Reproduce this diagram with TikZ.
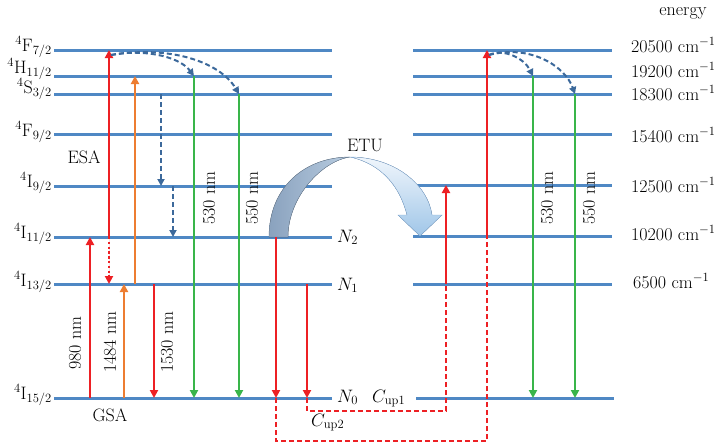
\RequirePackage{fix-cm}
\documentclass[tikz,border=0pt]{standalone}
\usepackage{fontspec}
\usetikzlibrary{arrows.meta}
\definecolor{lvl}{RGB}{79,136,196}
\definecolor{myred}{RGB}{237,32,36}
\definecolor{myorange}{RGB}{237,125,49}
\definecolor{mygreen}{RGB}{57,181,74}
\definecolor{mydash}{RGB}{60,105,155}
\definecolor{etuA}{RGB}{138,162,190}
\definecolor{etuB}{RGB}{185,205,225}
\definecolor{etuC}{RGB}{240,246,252}
\definecolor{etuD}{RGB}{160,198,232}
\tikzset{
  lev/.style={line width=3pt, draw=lvl},
  txt/.style={font=\fontsize{18}{21}\selectfont, inner sep=0pt},
  arr/.style={line width=2.4pt, -{Triangle[length=8pt,width=8pt]}},
  redarr/.style={arr, draw=myred, fill=myred},
  orarr/.style={arr, draw=myorange, fill=myorange},
  grarr/.style={arr, draw=mygreen, fill=mygreen},
  dotarr/.style={redarr, dash pattern=on 2.4pt off 2.4pt},
  bluedash/.style={line width=2pt, draw=mydash, dash pattern=on 5pt off 3pt, -{Triangle[length=7pt,width=7pt]}},
  reddash/.style={line width=2pt, draw=myred, dash pattern=on 5pt off 3pt},
}
\begin{document}
\begin{tikzpicture}[x=1pt,y=-1pt]
\useasboundingbox (0,0) rectangle (716,445);
% ---------- left levels
\foreach \y in {50,76,94,134,186,237,284,398}{
  \draw[lev] (54,\y) -- (332,\y);
}
% ---------- right levels
\foreach \y in {50,76,94,134,185,236,284}{
  \draw[lev] (413,\y) -- (612,\y);
}
\draw[lev] (416,398) -- (614,398);
% ---------- level labels
\node[txt, anchor=base east] (lF72) at (52,51) {$^4$F$_{7/2}$};
\node[txt, anchor=base east] (lH112) at (52,73) {$^4$H$_{11/2}$};
\node[txt, anchor=base east] (lS32) at (52,93) {$^4$S$_{3/2}$};
\node[txt, anchor=base east] (lF92) at (52,136) {$^4$F$_{9/2}$};
\node[txt, anchor=base east] (lI92) at (52,187) {$^4$I$_{9/2}$};
\node[txt, anchor=base east] (lI112) at (52,238) {$^4$I$_{11/2}$};
\node[txt, anchor=base east] (lI132) at (52,286) {$^4$I$_{13/2}$};
\node[txt, anchor=base east] (lI152) at (52,399) {$^4$I$_{15/2}$};
% ---------- energy labels
\node[txt] (energy) at (683,13) {energy};
\node[txt, anchor=base west] (e1) at (631,52) {20500 cm$^{-1}$};
\node[txt, anchor=base west] (e2) at (631,77) {19200 cm$^{-1}$};
\node[txt, anchor=base west] (e3) at (631,100) {18300 cm$^{-1}$};
\node[txt, anchor=base west] (e4) at (631,142) {15400 cm$^{-1}$};
\node[txt, anchor=base west] (e5) at (631,192) {12500 cm$^{-1}$};
\node[txt, anchor=base west] (e6) at (631,240) {10200 cm$^{-1}$};
\node[txt, anchor=base west] (e7) at (633,288) {6500 cm$^{-1}$};
% ---------- ETU curved arrow
\fill[left color=etuA, right color=etuB, draw=etuA!80!black, line width=0.4pt]
  (269,237) .. controls (269,187) and (305,157) .. (350,157)
  .. controls (322,161) and (288,197) .. (288,237) -- cycle;
\fill[top color=etuC, bottom color=etuD, draw=lvl!70, line width=0.4pt]
  (350,157) .. controls (395,157) and (428,185) .. (432,215)
  -- (442,215) -- (420,236) -- (398,215) -- (407,215)
  .. controls (400,187) and (382,164) .. (350,157) -- cycle;
\node[txt] (etu) at (365,145) {ETU};
% ---------- coordinates
\coordinate (a980b) at (90,398);   \coordinate (a980t) at (90,237);
\coordinate (esab) at (109,237);   \coordinate (esat) at (109,50);
\coordinate (dotb) at (109,284);
\coordinate (o1b) at (124,398);    \coordinate (o1t) at (124,284);
\coordinate (o2b) at (135,284);    \coordinate (o2t) at (135,76);
\coordinate (r1530t) at (154,284); \coordinate (r1530b) at (154,398);
\coordinate (bd1t) at (161,94);    \coordinate (bd1b) at (161,186);
\coordinate (bd2t) at (173,186);   \coordinate (bd2b) at (173,237);
\coordinate (g530t) at (194,76);   \coordinate (g530b) at (194,398);
\coordinate (g550t) at (239,94);   \coordinate (g550b) at (239,398);
\coordinate (cst) at (111,55);
\coordinate (ret) at (276,237);    \coordinate (reb) at (276,398);
\coordinate (rc2a) at (276,441);   \coordinate (rc2b) at (487,441);
\coordinate (rc2c) at (487,237);   \coordinate (rc2d) at (487,50);
\coordinate (rnt) at (307,284);    \coordinate (rnb) at (307,398);
\coordinate (rc1a) at (307,411);   \coordinate (rc1b) at (446,411);
\coordinate (rc1c) at (446,284);   \coordinate (rc1d) at (446,185);
\coordinate (rg530t) at (533,76);  \coordinate (rg530b) at (533,398);
\coordinate (rg550t) at (575,94);  \coordinate (rg550b) at (575,398);
\coordinate (rcst) at (489,55);
% ---------- left arrows
\draw[redarr] (a980b) -- (a980t);
\draw[redarr] (esab) -- (esat);
\draw[dotarr] (esab) -- (dotb);
\draw[orarr] (o1b) -- (o1t);
\draw[orarr] (o2b) -- (o2t);
\draw[redarr] (r1530t) -- (r1530b);
\draw[bluedash] (bd1t) -- (bd1b);
\draw[bluedash] (bd2t) -- (bd2b);
\draw[grarr] (g530t) -- (g530b);
\draw[grarr] (g550t) -- (g550b);
\draw[bluedash] (cst) .. controls (140,49) and (178,55) .. (g530t);
\draw[bluedash] (cst) .. controls (170,45) and (220,62) .. (g550t);
\draw[redarr] (ret) -- (reb);
\draw[redarr] (rnt) -- (rnb);
% ---------- cooperative upconversion paths
\draw[reddash] (reb) -- (rc2a) -- (rc2b) -- (rc2c);
\draw[redarr] (rc2c) -- (rc2d);
\draw[reddash] (rnb) -- (rc1a) -- (rc1b) -- (rc1c);
\draw[redarr] (rc1c) -- (rc1d);
% ---------- right arrows
\draw[grarr] (rg530t) -- (rg530b);
\draw[grarr] (rg550t) -- (rg550b);
\draw[bluedash] (rcst) .. controls (503,48) and (524,58) .. (rg530t);
\draw[bluedash] (rcst) .. controls (530,44) and (565,66) .. (rg550t);
% ---------- text labels
\node[txt, rotate=90] (l980) at (75,343) {980 nm};
\node[txt, rotate=90] (l1484) at (110,342) {1484 nm};
\node[txt, rotate=90] (l1530) at (167,342) {1530 nm};
\node[txt, rotate=90] (l530) at (209,198) {530 nm};
\node[txt, rotate=90] (l550) at (252,198) {550 nm};
\node[txt, rotate=90] (r530) at (547,198) {530 nm};
\node[txt, rotate=90] (r550) at (589,198) {550 nm};
\node[txt] (esa) at (84,157) {ESA};
\node[txt] (gsa) at (110,415) {GSA};
\node[txt, anchor=base west] (n2) at (337,242) {$N_2$};
\node[txt, anchor=base west] (n1) at (337,290) {$N_1$};
\node[txt, anchor=base west] (n0) at (337,402) {$N_0$};
\node[txt, anchor=base west] (cup1) at (372,402) {$C_{\rm up1}$};
\node[txt, anchor=base west] (cup2) at (311,426) {$C_{\rm up2}$};
\end{tikzpicture}
\end{document}
